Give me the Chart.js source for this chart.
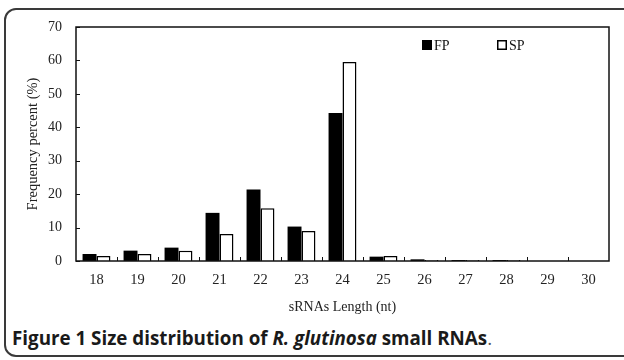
<!DOCTYPE html>
<html>
<head>
<meta charset="utf-8">
<script src="https://cdn.jsdelivr.net/npm/chart.js@4/dist/chart.umd.min.js"></script>
<style>
  html, body { margin: 0; padding: 0; background: #fff; }
  body { width: 624px; height: 360px; position: relative; overflow: hidden; }
  #frame { position: absolute; left: 4px; top: 8px; width: 700px; height: 345px;
           border: 2px solid #3a3a3a; border-radius: 12px; }
  #wrap { position: absolute; left: 0; top: 0; width: 624px; height: 320px; }
  #caption { position: absolute; left: 12px; top: 325px; font-family: "Open Sans", sans-serif;
             font-size: 18.8px; font-weight: bold; color: #1a1a1a; white-space: nowrap; }
  #caption .dot { font-weight: normal; color: #555; }
</style>
</head>
<body>
<div id="frame"></div>
<div id="wrap"><canvas id="c"></canvas></div>
<div id="caption">Figure 1 Size distribution of <i>R. glutinosa</i> small RNAs<span class="dot">.</span></div>
<script>
const categories = ["18","19","20","21","22","23","24","25","26","27","28","29","30"];
const fpValues = [2.1, 3.1, 4.0, 14.4, 21.4, 10.3, 44.3, 1.3, 0.5, 0.3, 0.3, 0, 0];
const spValues = [1.5, 2.1, 3.1, 8.1, 15.8, 9.0, 59.5, 1.5, 0.3, 0.3, 0.3, 0, 0];
const seriesLabels = ["FP", "SP"];
const yTicks = [0, 10, 20, 30, 40, 50, 60, 70];

const serif = "'Liberation Serif', 'Times New Roman', serif";

const frameAndTicks = {
  id: 'frameAndTicks',
  afterDatasetsDraw(chart) {
    const ctx = chart.ctx;
    const a = chart.chartArea;
    const xs = chart.scales.x, ys = chart.scales.y;
    ctx.save();
    ctx.strokeStyle = '#111';
    ctx.lineWidth = 1.5;
    ctx.strokeRect(a.left, a.top, a.right - a.left, a.bottom - a.top);
    ctx.lineWidth = 1;
    yTicks.forEach(v => {
      const y = Math.round(ys.getPixelForValue(v)) + 0.5;
      ctx.beginPath(); ctx.moveTo(a.left, y); ctx.lineTo(a.left + 4, y); ctx.stroke();
    });
    const n = categories.length;
    for (let i = 1; i < n; i++) {
      const x = Math.round((xs.getPixelForValue(i - 1) + xs.getPixelForValue(i)) / 2) + 0.5;
      ctx.beginPath(); ctx.moveTo(x, a.bottom); ctx.lineTo(x, a.bottom - 4); ctx.stroke();
    }
    ctx.font = "14px " + serif;
    ctx.textBaseline = 'middle';
    const legendX = [a.left + 346, a.left + 421];
    const ly = a.top + 18;
    chart.data.datasets.forEach((ds, i) => {
      const x = legendX[i];
      if (i === 0) {
        ctx.fillStyle = '#000';
        ctx.fillRect(x, ly - 5, 10, 10);
      } else {
        ctx.fillStyle = '#fff';
        ctx.fillRect(x, ly - 5, 10, 10);
        ctx.strokeStyle = '#000';
        ctx.lineWidth = 1.5;
        ctx.strokeRect(x + 0.75, ly - 4.25, 8.5, 8.5);
      }
      ctx.fillStyle = '#111';
      ctx.fillText(ds.label, x + 12, ly + 1);
    });
    ctx.restore();
  }
};

new Chart(document.getElementById('c'), {
  type: 'bar',
  data: {
    labels: categories,
    datasets: [
      { label: seriesLabels[0], data: fpValues, backgroundColor: '#000', borderColor: '#000', borderWidth: 0 },
      { label: seriesLabels[1], data: spValues, backgroundColor: '#fff', borderColor: '#000', borderWidth: 1.5 }
    ]
  },
  options: {
    responsive: true,
    maintainAspectRatio: false,
    animation: false,
    devicePixelRatio: 1,
    categoryPercentage: 0.68,
    barPercentage: 1.0,
    layout: { padding: { left: 0, right: 15, top: 27, bottom: 0 } },
    plugins: { legend: { display: false }, tooltip: { enabled: false } },
    scales: {
      x: {
        grid: { display: false, drawTicks: false },
        border: { display: false },
        ticks: { color: '#222', font: { family: serif, size: 14.5 }, padding: 10, maxRotation: 0 },
        title: { display: true, text: 'sRNAs Length (nt)', color: '#222',
                 font: { family: serif, size: 14 }, padding: { top: 0, bottom: 4 } },
        afterFit(s) { s.height = 59; }
      },
      y: {
        min: 0, max: 70,
        grid: { display: false, drawTicks: false },
        border: { display: false },
        afterBuildTicks(s) { s.ticks = yTicks.map(v => ({ value: v })); },
        ticks: { color: '#222', font: { family: serif, size: 14 }, padding: 14 },
        title: { display: true, text: 'Frequency percent (%)', color: '#222',
                 font: { family: serif, size: 14.5 }, padding: { top: 24, bottom: 0 } },
        afterFit(s) { s.width = 76; }
      }
    }
  },
  plugins: [frameAndTicks]
});
</script>
</body>
</html>
